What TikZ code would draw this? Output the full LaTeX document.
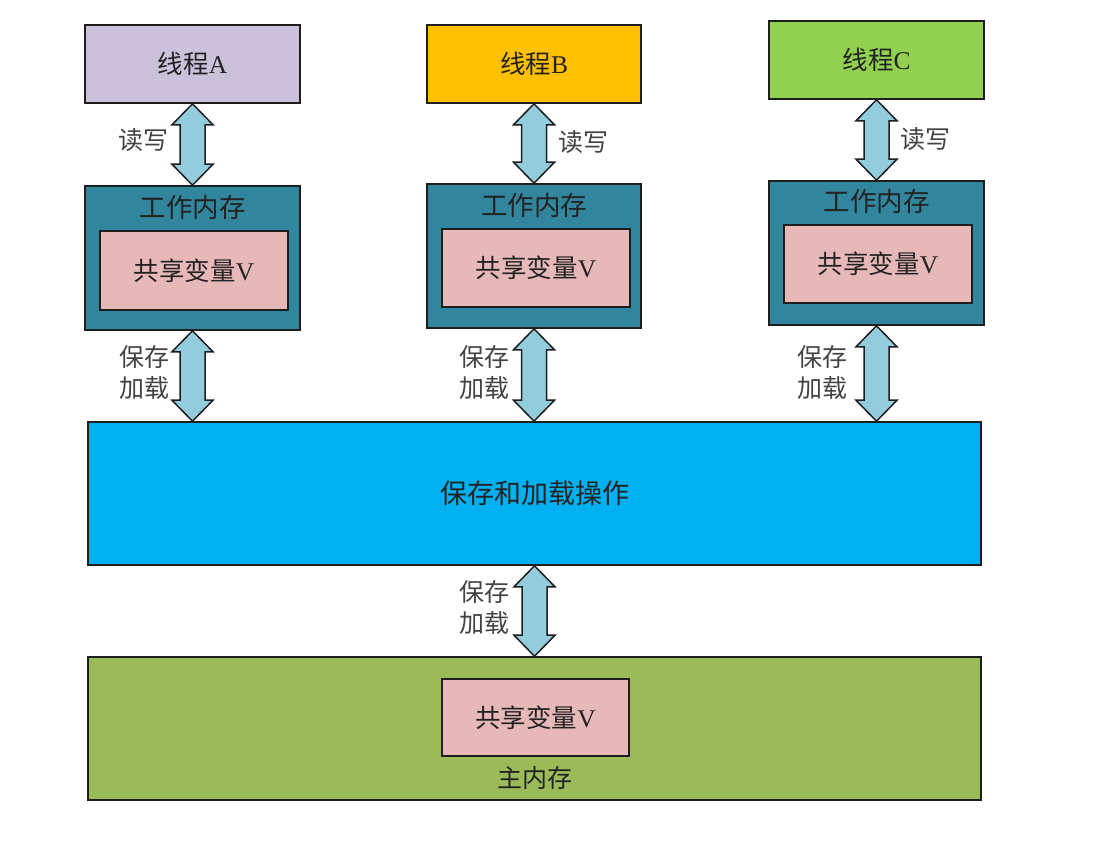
\documentclass[tikz,border=0pt]{standalone}
\usepackage{fontspec}
\setmainfont{Liberation Serif}
\newfontfamily\cjk{Noto Sans CJK SC}
\usetikzlibrary{calc}
\definecolor{thA}{HTML}{CCC1DA}
\definecolor{thB}{HTML}{FFC000}
\definecolor{thC}{HTML}{92D050}
\definecolor{wmem}{HTML}{31859C}
\definecolor{pinkv}{HTML}{E6B9B8}
\definecolor{bigblue}{HTML}{00B0F0}
\definecolor{mainmem}{HTML}{9BBB59}
\definecolor{arrfill}{HTML}{93CDDD}
\definecolor{edge}{HTML}{1E1E1E}
\definecolor{txt}{HTML}{222222}
\tikzset{
  box/.style={draw=edge, line width=1.6pt, rectangle, inner sep=0pt, font=\fontsize{25.5}{30}\selectfont, text=txt},
  lbl/.style={inner sep=0pt, align=center, font=\fontsize{25}{31}\selectfont, text=txt!85!white},
  wtitle/.style={inner sep=0pt, font=\fontsize{26.5}{30}\selectfont, text=txt},
  arrowstyle/.style={draw=edge, line width=1.5pt, fill=arrfill, line join=miter},
}
\newcommand\dblarr[2]{\draw[arrowstyle] let \p1=#1, \p2=#2 in
  (\x1,\y1) -- ++(20.5pt,-21pt) -- ++(-8pt,0pt) -- (\x1+12.5pt,\y2+21pt) -- ++(8pt,0pt)
  -- (\x1,\y2) -- ++(-20.5pt,21pt) -- ++(8pt,0pt) -- (\x1-12.5pt,\y1-21pt) -- ++(-8pt,0pt) -- cycle;}
\begin{document}
\begin{tikzpicture}[x=1pt,y=-1pt]
\useasboundingbox (0,0) rectangle (1100,864);
\fill[white] (0,0) rectangle (1100,864);
% threads
\node[box, fill=thA, minimum width=215pt, minimum height=78pt] (TA) at (192.5,64) {{\cjk 线程}A};
\node[box, fill=thB, minimum width=214pt, minimum height=78pt] (TB) at (534,64) {{\cjk 线程}B};
\node[box, fill=thC, minimum width=215pt, minimum height=78pt] (TC) at (876.5,60) {{\cjk 线程}C};
% working memories
\node[box, fill=wmem, minimum width=215pt, minimum height=144pt] (WA) at (192.5,258) {};
\node[box, fill=wmem, minimum width=214pt, minimum height=144pt] (WB) at (534,256) {};
\node[box, fill=wmem, minimum width=215pt, minimum height=144pt] (WC) at (876.5,253) {};
\node[wtitle] (WAt) at ($(WA.north)+(0,22)$) {\cjk 工作内存};
\node[wtitle] (WBt) at ($(WB.north)+(0,22)$) {\cjk 工作内存};
\node[wtitle] (WCt) at ($(WC.north)+(0,21)$) {\cjk 工作内存};
\node[box, fill=pinkv, minimum width=188pt, minimum height=79pt] (VA) at (194,270.5) {{\cjk 共享变量}V};
\node[box, fill=pinkv, minimum width=188pt, minimum height=78pt] (VB) at (536,268) {{\cjk 共享变量}V};
\node[box, fill=pinkv, minimum width=188pt, minimum height=78pt] (VC) at (878,264) {{\cjk 共享变量}V};
% big operation box
\node[box, fill=bigblue, minimum width=893pt, minimum height=143pt, font=\fontsize{27}{30}\selectfont] (OP) at (534.5,493.5) {\cjk 保存和加载操作};
% main memory
\node[box, fill=mainmem, minimum width=893pt, minimum height=143pt] (MM) at (534.5,728.5) {};
\node[box, fill=pinkv, minimum width=187pt, minimum height=77pt] (VM) at (535.5,717.5) {{\cjk 共享变量}V};
\node[lbl, text=txt] (MMt) at (535,778) {\cjk 主内存};
% arrows
\dblarr{(TA.south)}{(WA.north)}
\dblarr{(TB.south)}{(WB.north)}
\dblarr{(TC.south)}{(WC.north)}
\dblarr{(WA.south)}{(WA.south |- OP.north)}
\dblarr{(WB.south)}{(WB.south |- OP.north)}
\dblarr{(WC.south)}{(WC.south |- OP.north)}
\dblarr{(OP.south)}{(MM.north)}
% labels
\node[lbl] (rwA) at (143,140) {\cjk 读写};
\node[lbl] (rwB) at (583,142) {\cjk 读写};
\node[lbl] (rwC) at (925,139) {\cjk 读写};
\node[lbl] (slA) at (144,373) {\cjk 保存\\\cjk 加载};
\node[lbl] (slB) at (484,373) {\cjk 保存\\\cjk 加载};
\node[lbl] (slC) at (822,373) {\cjk 保存\\\cjk 加载};
\node[lbl] (slM) at (484,607.5) {\cjk 保存\\\cjk 加载};
\end{tikzpicture}
\end{document}
